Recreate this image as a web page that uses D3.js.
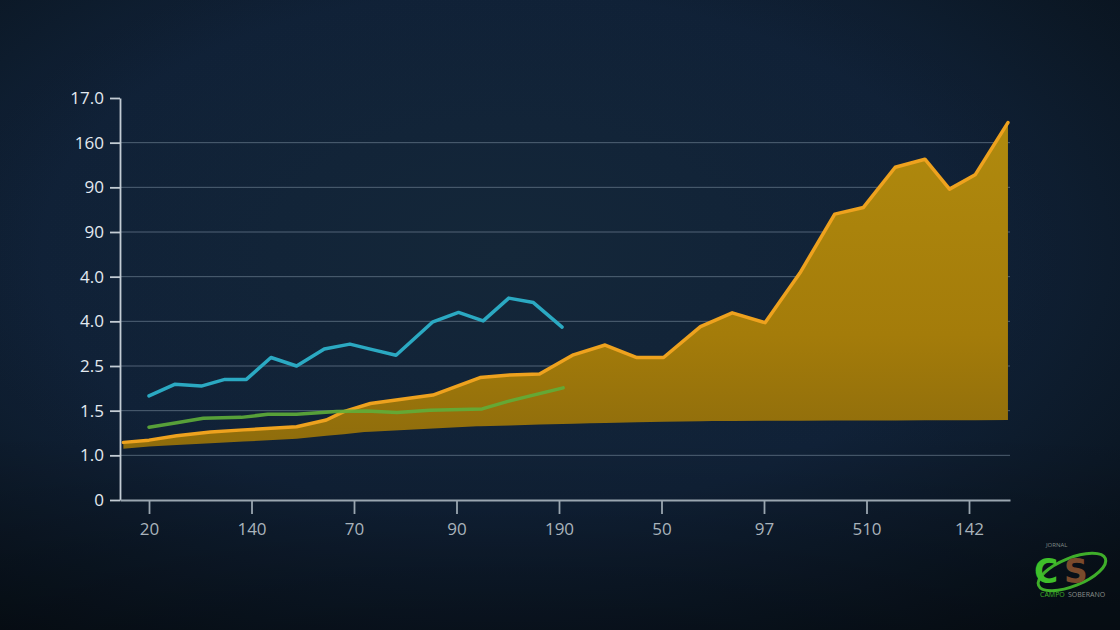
<!DOCTYPE html>
<html><head><meta charset="utf-8">
<script src="https://cdn.jsdelivr.net/npm/d3@7"></script>
<style>html,body{margin:0;padding:0;background:#0c1824;}svg{display:block;}</style>
</head><body>
<script>
// ---- data (x in category-index units, y in tick-index units) ----
const xLabels = ["20","140","70","90","190","50","97","510","142"];
const yLabels = ["0","1.0","1.5","2.5","4.0","4.0","90","90","160","17.0"];

const cyanX = [0,0.25,0.51,0.74,0.95,1.19,1.44,1.71,1.96,2.19,2.41,2.77,3.02,3.26,3.51,3.75,4.03];
const cyanY = [2.33,2.59,2.55,2.70,2.70,3.19,3.00,3.38,3.49,3.36,3.24,3.99,4.20,4.01,4.52,4.42,3.87];

const greenX = [0,0.27,0.53,0.9,1.16,1.44,1.83,2.12,2.42,2.74,3.25,3.52,4.04];
const greenY = [1.63,1.73,1.83,1.85,1.92,1.92,1.98,1.99,1.96,2.01,2.04,2.22,2.51];

const goldX = [-0.25,0,0.27,0.6,0.92,1.44,1.73,1.9,2.16,2.77,3.23,3.52,3.81,4.14,4.45,4.76,5.02,5.38,5.69,6.01,6.35,6.69,6.97,7.28,7.57,7.81,8.06,8.38];
const goldHigh = [1.29,1.34,1.44,1.52,1.57,1.64,1.79,1.98,2.16,2.35,2.74,2.80,2.82,3.25,3.47,3.19,3.19,3.88,4.19,3.97,5.08,6.40,6.55,7.45,7.63,6.96,7.28,8.45];
const goldLowX = [-0.25,0,1.44,2.1,3.2,4.3,5.5,8.38];
const goldLow = [1.15,1.2,1.37,1.52,1.65,1.72,1.77,1.79];

const W = 1120, H = 630;
const svg = d3.select("body").append("svg").attr("width", W).attr("height", H);
const defs = svg.append("defs");

const bg = defs.append("radialGradient").attr("id","bg").attr("cx","0.45").attr("cy","0.4").attr("r","0.75");
bg.append("stop").attr("offset","0%").attr("stop-color","#15293c");
bg.append("stop").attr("offset","55%").attr("stop-color","#11233a");
bg.append("stop").attr("offset","100%").attr("stop-color","#09131d");
svg.append("rect").attr("width",W).attr("height",H).attr("fill","url(#bg)");
const bgv = defs.append("linearGradient").attr("id","bgv").attr("x1",0).attr("y1",0).attr("x2",0).attr("y2",1);
bgv.append("stop").attr("offset","0%").attr("stop-color","#000").attr("stop-opacity",0.05);
bgv.append("stop").attr("offset","70%").attr("stop-color","#000").attr("stop-opacity",0.05);
bgv.append("stop").attr("offset","100%").attr("stop-color","#000").attr("stop-opacity",0.35);
svg.append("rect").attr("width",W).attr("height",H).attr("fill","url(#bgv)");

const x = d3.scaleLinear().domain([-0.283, 8.4]).range([120, 1010]);
const y = d3.scaleLinear().domain([0, 9]).range([500, 98]);

// grid lines
svg.append("g").selectAll("line").data(d3.range(1,9)).join("line")
  .attr("x1", x(-0.283)).attr("x2", x(8.4))
  .attr("y1", d => y(d)).attr("y2", d => y(d))
  .attr("stroke", "#8fa2b3").attr("stroke-opacity", 0.5).attr("stroke-width", 1);

// gold band
const goldGrad = defs.append("linearGradient").attr("id","gold").attr("x1",0).attr("y1",0).attr("x2",0).attr("y2",1);
goldGrad.append("stop").attr("offset","0%").attr("stop-color","#b08a0e");
goldGrad.append("stop").attr("offset","65%").attr("stop-color","#a47c0a");
goldGrad.append("stop").attr("offset","100%").attr("stop-color","#8e6c0c");

const interp = (xs, ys) => v => {
  for (let i = 1; i < xs.length; i++) {
    if (v <= xs[i]) {
      const t = (v - xs[i-1]) / (xs[i] - xs[i-1]);
      return ys[i-1] + t * (ys[i] - ys[i-1]);
    }
  }
  return ys[ys.length-1];
};
const lowInterp = interp(goldLowX, goldLow);
const hiInterp = interp(goldX, goldHigh);
const goldData = goldX.map((v,i) => ({x:v, hi:goldHigh[i]}));
const allX = Array.from(new Set(goldX.concat(goldLowX))).sort((a,b)=>a-b);
const bandData = allX.map(v => ({x:v, hi:hiInterp(v), lo:lowInterp(v)}));

svg.append("path").datum(bandData)
  .attr("d", d3.area().x(d => x(d.x)).y0(d => y(d.lo)).y1(d => y(d.hi)))
  .attr("fill", "url(#gold)");
svg.append("path").datum(goldData)
  .attr("d", d3.line().x(d => x(d.x)).y(d => y(d.hi)))
  .attr("fill", "none").attr("stroke", "#eea21e").attr("stroke-width", 3.5)
  .attr("stroke-linejoin","round").attr("stroke-linecap","round");

// green line
svg.append("path").datum(greenX.map((v,i)=>[v,greenY[i]]))
  .attr("d", d3.line().x(d => x(d[0])).y(d => y(d[1])))
  .attr("fill","none").attr("stroke","#5fae3a").attr("stroke-width",3.5)
  .attr("stroke-linejoin","round").attr("stroke-linecap","round").attr("stroke-opacity",0.9);

// cyan line
svg.append("path").datum(cyanX.map((v,i)=>[v,cyanY[i]]))
  .attr("d", d3.line().x(d => x(d[0])).y(d => y(d[1])))
  .attr("fill","none").attr("stroke","#2ba9c2").attr("stroke-width",3.5)
  .attr("stroke-linejoin","round").attr("stroke-linecap","round");

// axes
const font = "'Open Sans', 'Noto Sans', sans-serif";
const yAxis = svg.append("g").attr("transform", `translate(${x(-0.283)},0)`)
  .call(d3.axisLeft(y).tickValues(d3.range(10)).tickFormat(i => yLabels[i]).tickSize(10).tickSizeOuter(0).tickPadding(6));
yAxis.selectAll("path,line").attr("stroke","#c3ccd4").attr("stroke-width",1.8);
yAxis.selectAll("text").attr("fill","#e3eaf0").attr("font-size",17).attr("font-family",font);

const xAxis = svg.append("g").attr("transform", `translate(0,${y(0)})`)
  .call(d3.axisBottom(x).tickValues(d3.range(9)).tickFormat(i => xLabels[i]).tickSize(14).tickSizeOuter(0).tickPadding(9));
xAxis.selectAll("path,line").attr("stroke","#9aa6b0").attr("stroke-width",1.8);
xAxis.selectAll("text").attr("fill","#a9b3bb").attr("font-size",17).attr("font-family",font);

// logo
const logo = svg.append("g").attr("transform","translate(1072,572)");
logo.append("ellipse").attr("rx",36).attr("ry",14).attr("transform","rotate(-22)")
  .attr("fill","none").attr("stroke","#3fae2a").attr("stroke-width",3);
logo.append("text").attr("x",-26).attr("y",-25).attr("font-size",6).attr("fill","#7f8a86")
  .attr("font-family",font).text("JORNAL");
logo.append("text").attr("x",-38).attr("y",11).attr("font-size",33).attr("font-weight",800)
  .attr("fill","#3fbf2a").attr("font-family","'DejaVu Sans', sans-serif").text("C");
logo.append("text").attr("x",-8).attr("y",11).attr("font-size",33).attr("font-weight",800)
  .attr("fill","#7a4a2c").attr("font-family","'DejaVu Sans', sans-serif").text("S");
logo.append("text").attr("x",-32).attr("y",25).attr("font-size",7).attr("fill","#3fae2a")
  .attr("font-family",font).text("CAMPO");
logo.append("text").attr("x",-4).attr("y",25).attr("font-size",7).attr("fill","#8a8f8c")
  .attr("font-family",font).text("SOBERANO");
</script>
</body></html>
